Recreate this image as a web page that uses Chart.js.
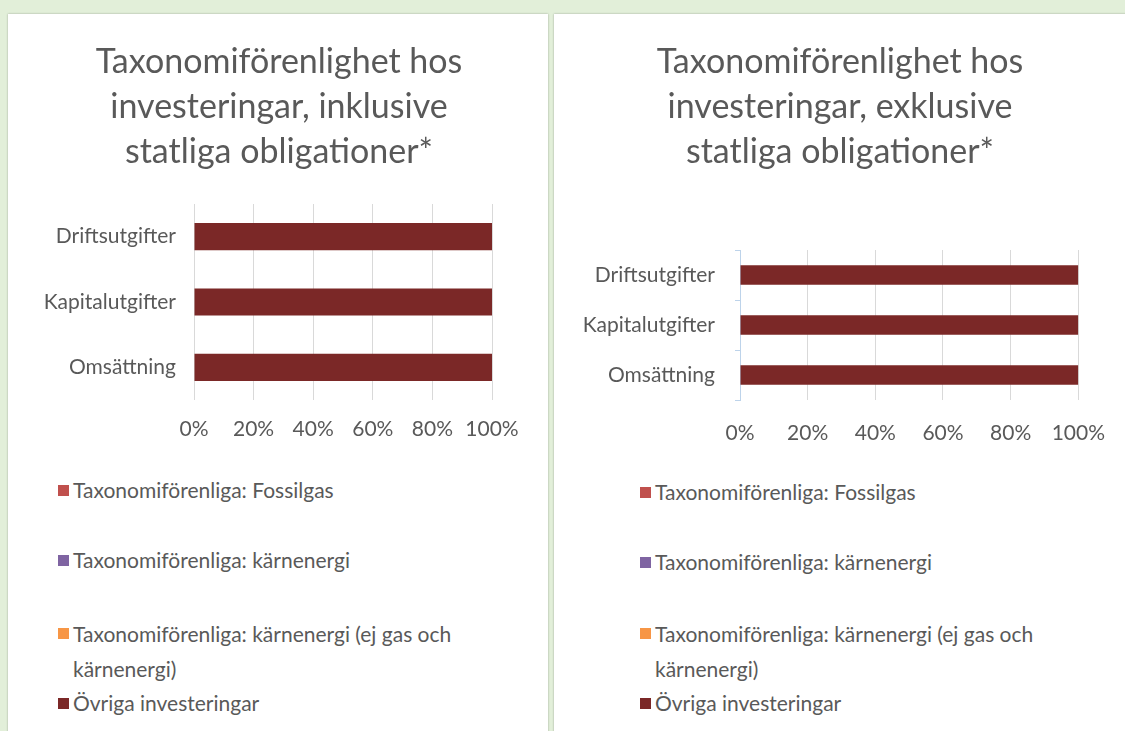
<!DOCTYPE html>
<html>
<head>
<meta charset="utf-8">
<script src="https://cdn.jsdelivr.net/npm/chart.js@4.4.0/dist/chart.umd.min.js"></script>
<style>
    body {
        margin: 0;
        width: 1125px;
        height: 731px;
        background: #e2efd9;
        overflow: hidden;
        font-family: Lato, "Open Sans", sans-serif;
    }
    .panel {
        position: absolute;
        top: 14px;
        height: 740px;
        background: #fff;
        box-shadow: 0 0 2px rgba(0, 0, 0, 0.3);
        overflow: hidden;
    }
    #panel-inkl { left: 8px; width: 540px; }
    #panel-exkl { left: 554px; width: 580px; }
    canvas { position: absolute; left: 0; top: 0; }
    .legend-item {
        position: absolute;
        width: 440px;
        color: #595959;
        font-size: 21px;
        line-height: 30px;
        padding-left: 15px;
    }
    .legend-item.wrapped { line-height: 35px; }
    .legend-item .box {
        position: absolute;
        left: 0;
        width: 11px;
        height: 11px;
    }
</style>
</head>
<body>
<div class="panel" id="panel-inkl">
    <canvas id="chart-inkl" width="540" height="440"></canvas>
    <div id="legend-inkl"></div>
</div>
<div class="panel" id="panel-exkl">
    <canvas id="chart-exkl" width="572" height="440"></canvas>
    <div id="legend-exkl"></div>
</div>
<script>
const categories = ["Driftsutgifter", "Kapitalutgifter", "Omsättning"];
const seriesNames = [
    "Taxonomiförenliga: Fossilgas",
    "Taxonomiförenliga: kärnenergi",
    "Taxonomiförenliga: kärnenergi (ej gas och kärnenergi)",
    "Övriga investeringar",
];
const seriesColors = ["#c0504d", "#7f64a2", "#f79646", "#7b2827"];
const xTicks = [0, 20, 40, 60, 80, 100];

// inklusive statliga obligationer
const fossilgasInkl = [0, 0, 0];
const karnenergiInkl = [0, 0, 0];
const ejGasInkl = [0, 0, 0];
const ovrigaInkl = [100, 100, 100];

// exklusive statliga obligationer
const fossilgasExkl = [0, 0, 0];
const karnenergiExkl = [0, 0, 0];
const ejGasExkl = [0, 0, 0];
const ovrigaExkl = [100, 100, 100];

const titleInkl = ["Taxonomiförenlighet hos", "investeringar, inklusive", "statliga obligationer*"];
const titleExkl = ["Taxonomiförenlighet hos", "investeringar, exklusive", "statliga obligationer*"];

const textColor = "#595959";
const fontFamily = "Lato, 'Open Sans', sans-serif";

// the excel title is centred on the whole panel, not on the plot box
const titleShift = {
    id: "titleShift",
    afterLayout(chart, args, opts) {
        const t = chart.titleBlock;
        if (t && opts.dx) {
            t.left += opts.dx;
            t.right += opts.dx;
        }
    },
};

function buildDatasets(values, barPct) {
    return values.map((data, i) => ({
        label: seriesNames[i],
        data: data,
        backgroundColor: seriesColors[i],
        borderWidth: 0,
        barPercentage: barPct,
        categoryPercentage: 1,
    }));
}

function makeChart(canvasId, title, values, layout) {
    const ctx = document.getElementById(canvasId).getContext("2d");
    return new Chart(ctx, {
        type: "bar",
        data: {
            labels: categories,
            datasets: buildDatasets(values, layout.barPct),
        },
        plugins: [titleShift],
        options: {
            indexAxis: "y",
            responsive: false,
            animation: false,
            layout: {
                padding: { left: 0, right: layout.padRight, top: 0, bottom: 0 },
            },
            plugins: {
                legend: { display: false },
                tooltip: { enabled: false },
                titleShift: { dx: layout.padRight / 2 + layout.titleDx },
                title: {
                    display: true,
                    text: title,
                    color: textColor,
                    font: { family: fontFamily, size: 34, weight: "normal", lineHeight: 45 / 34 },
                    padding: { top: 26, bottom: layout.titleGap },
                },
            },
            scales: {
                x: {
                    stacked: true,
                    min: 0,
                    max: 100,
                    afterBuildTicks: (scale) => {
                        scale.ticks = xTicks.map(v => ({ value: v }));
                    },
                    afterFit: (scale) => { scale.height = 54; },
                    ticks: {
                        color: textColor,
                        font: { family: fontFamily, size: 21 },
                        padding: layout.xTickPad,
                        callback: (v) => v + "%",
                    },
                    grid: { color: "#d9d9d9", drawTicks: false },
                    border: { display: false },
                },
                y: {
                    stacked: true,
                    afterFit: (scale) => { scale.width = 186; },
                    ticks: {
                        color: textColor,
                        font: { family: fontFamily, size: 21 },
                        padding: layout.yTickPad,
                    },
                    grid: {
                        display: layout.axisMarks,
                        drawOnChartArea: false,
                        drawTicks: layout.axisMarks,
                        tickLength: 5,
                        color: "#bdd3ea",
                    },
                    border: { display: layout.axisMarks, color: "#bdd3ea" },
                },
            },
        },
    });
}

function renderLegend(containerId, chart, left, rowTops) {
    const box = document.getElementById(containerId);
    chart.data.datasets.forEach((ds, i) => {
        const wrapped = ds.label.length > 40;
        const item = document.createElement("div");
        item.className = "legend-item" + (wrapped ? " wrapped" : "");
        item.style.left = left + "px";
        item.style.top = rowTops[i] + "px";
        const sq = document.createElement("span");
        sq.className = "box";
        sq.style.background = ds.backgroundColor;
        sq.style.top = (wrapped ? 12 : 10) + "px";
        item.appendChild(sq);
        item.appendChild(document.createTextNode(ds.label));
        box.appendChild(item);
    });
}

const chartInkl = makeChart("chart-inkl", titleInkl,
    [fossilgasInkl, karnenergiInkl, ejGasInkl, ovrigaInkl],
    { barPct: 0.415, padRight: 56, titleDx: 1, titleGap: 29, xTickPad: 17, yTickPad: 18, axisMarks: false });

const chartExkl = makeChart("chart-exkl", titleExkl,
    [fossilgasExkl, karnenergiExkl, ejGasExkl, ovrigaExkl],
    { barPct: 0.39, padRight: 45, titleDx: 0, titleGap: 75, xTickPad: 21, yTickPad: 20, axisMarks: true });

renderLegend("legend-inkl", chartInkl, 50, [461, 531, 602, 674]);
renderLegend("legend-exkl", chartExkl, 86, [463, 533, 602, 674]);
</script>
</body>
</html>
